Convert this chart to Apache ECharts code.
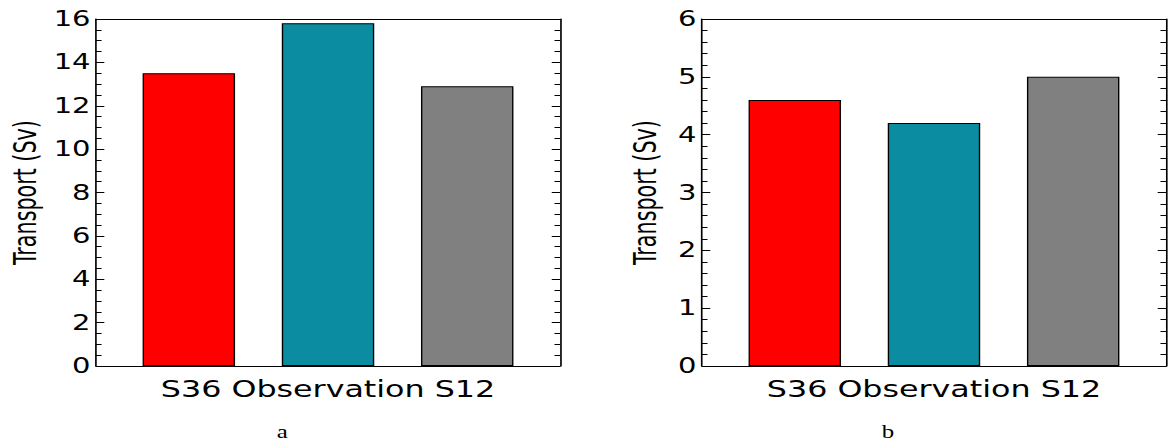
<!DOCTYPE html>
<html><head><meta charset="utf-8">
<script src="https://cdn.jsdelivr.net/npm/echarts@6/dist/echarts.min.js"></script>
<style>
html,body{margin:0;padding:0;background:#fff;overflow:hidden;}
#wrap{width:1169px;height:445px;overflow:hidden;position:relative;}
#chart{width:847px;height:445px;transform:scaleX(1.38);transform-origin:0 0;}
</style></head>
<body><div id="wrap"><div id="chart"></div></div>
<script>
// ---- data ----
const categories = ['S36', 'Observation', 'S12'];
const transportA = [13.5, 15.8, 12.9];
const transportB = [4.6, 4.2, 5.0];
const yRangeA = [0, 16];
const yStepA = 2;
const yRangeB = [0, 6];
const yStepB = 1;
const yAxisTitle = 'Transport (Sv)';
const panelCaptions = ['a', 'b'];

// ---- styles ----
const barColors = ['#ff0000', '#0b8ca0', '#808080'];
const black = '#000';
const tickFont = '"DejaVu Sans", sans-serif';

const chart = echarts.init(document.getElementById('chart'), null, {renderer: 'svg'});

const grids = [
  {left: 69.6, top: 19, width: 336.2, height: 347},
  {left: 508.7, top: 19, width: 336.2, height: 347}
];
const panels = [
  {vals: transportA, range: yRangeA, step: yStepA, minorSplit: 4, nameGap: 40},
  {vals: transportB, range: yRangeB, step: yStepB, minorSplit: 5, nameGap: 30}
];

const xAxes = [], yAxes = [], series = [];
panels.forEach((p, gi) => {
  const xmin = -2 / 3, xmax = categories.length - 1 + 2 / 3;
  xAxes.push({
    type: 'value', gridIndex: gi, position: 'bottom', min: xmin, max: xmax,
    axisLine: {show: true, onZero: false, lineStyle: {color: black, width: 1.2}},
    axisTick: {show: true, inside: true, length: 5, customValues: categories.map((c, i) => i), lineStyle: {color: black, width: 1}},
    axisLabel: {show: false}, splitLine: {show: false},
    name: categories.join(' '), nameLocation: 'middle', nameGap: 12,
    nameTextStyle: {fontFamily: tickFont, fontSize: 23, color: black, verticalAlign: 'top'}
  });
  xAxes.push({
    type: 'value', gridIndex: gi, position: 'top', min: xmin, max: xmax,
    axisLine: {show: true, onZero: false, lineStyle: {color: black, width: 1.2}},
    axisTick: {show: false}, axisLabel: {show: false}, splitLine: {show: false}
  });
  const yCommon = {
    type: 'value', gridIndex: gi, min: p.range[0], max: p.range[1], interval: p.step,
    axisLine: {show: true, onZero: false, lineStyle: {color: black, width: 1.2}},
    axisTick: {show: true, inside: true, length: 6, lineStyle: {color: black, width: 1}},
    minorTick: {show: true, splitNumber: p.minorSplit, length: 4, lineStyle: {color: black, width: 1}},
    splitLine: {show: false}
  };
  yAxes.push(Object.assign({}, yCommon, {
    position: 'left',
    axisLabel: {show: true, fontFamily: tickFont, fontSize: 21, color: black, margin: 4},
    name: yAxisTitle, nameLocation: 'middle', nameGap: p.nameGap, nameRotate: 90,
    nameTextStyle: {fontFamily: '"Liberation Sans Narrow", "DejaVu Sans Condensed", "Liberation Sans", sans-serif', fontSize: 23, color: black}
  }));
  yAxes.push(Object.assign({}, yCommon, {
    position: 'right', axisLabel: {show: false}
  }));
  series.push({
    type: 'bar', xAxisIndex: gi * 2, yAxisIndex: gi * 2, barWidth: 67,
    data: p.vals.map((v, i) => ({value: [i, v], itemStyle: {color: barColors[i]}})),
    itemStyle: {borderColor: black, borderWidth: 1}
  });
});

chart.setOption({
  animation: false,
  backgroundColor: '#fff',
  grid: grids,
  xAxis: xAxes,
  yAxis: yAxes,
  series: series,
  graphic: [
    {type: 'text', x: 204.5, y: 432, style: {text: panelCaptions[0], fontFamily: '"Liberation Serif", serif', fontSize: 18, fill: black, align: 'center', verticalAlign: 'middle'}},
    {type: 'text', x: 643.5, y: 432, style: {text: panelCaptions[1], fontFamily: '"Liberation Serif", serif', fontSize: 18, fill: black, align: 'center', verticalAlign: 'middle'}}
  ]
});
</script>
</body></html>
